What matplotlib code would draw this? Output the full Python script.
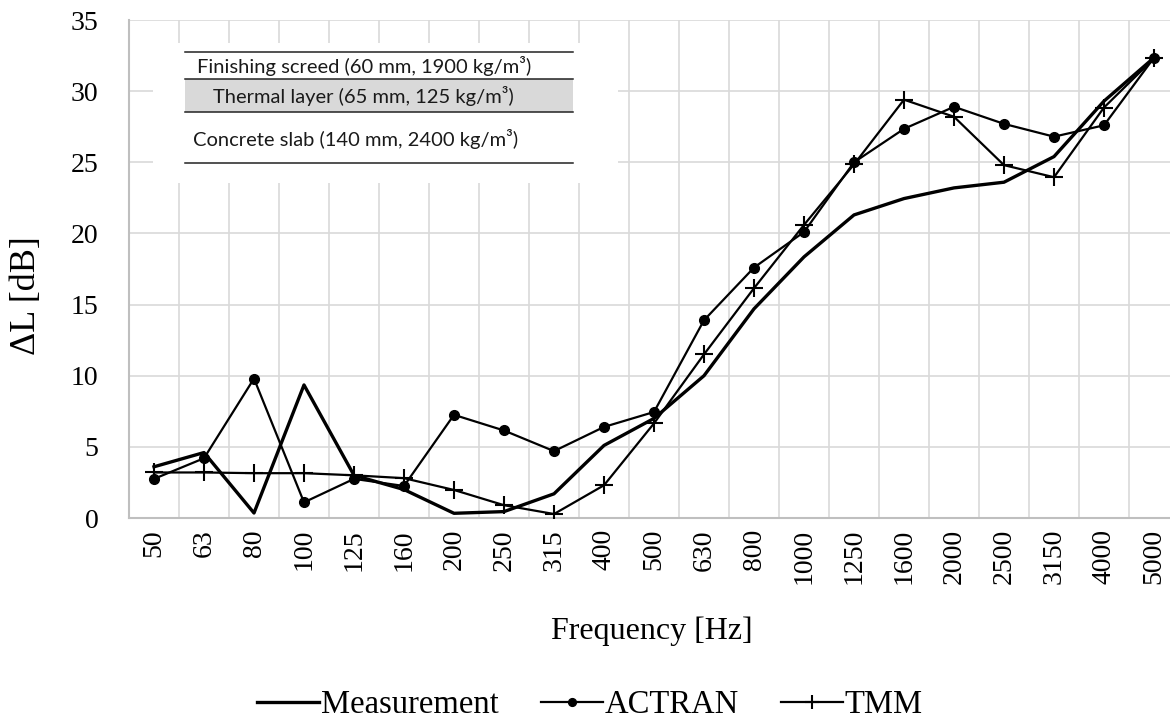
import matplotlib.pyplot as plt
from matplotlib.patches import Rectangle
import numpy as np

freqs = ['50', '63', '80', '100', '125', '160', '200', '250', '315', '400',
         '500', '630', '800', '1000', '1250', '1600', '2000', '2500', '3150',
         '4000', '5000']

measurement = [3.6, 4.6, 0.35, 9.35, 3.0, 2.0, 0.33, 0.45, 1.7, 5.1,
               7.0, 10.0, 14.7, 18.35, 21.3, 22.45, 23.2, 23.6, 25.4,
               29.3, 32.35]
actran = [2.75, 4.2, 9.8, 1.1, 2.75, 2.25, 7.25, 6.15, 4.7, 6.4,
          7.45, 13.9, 17.6, 20.1, 25.0, 27.35, 28.9, 27.7, 26.8,
          27.6, 32.35]
tmm = [3.2, 3.2, 3.15, 3.15, 3.0, 2.8, 1.97, 0.9, 0.28, 2.3,
       6.65, 11.5, 16.15, 20.6, 24.85, 29.4, 28.2, 24.8, 23.95,
       28.85, 32.3]

y_ticks = [0, 5, 10, 15, 20, 25, 30, 35]

layers = ['Finishing screed (60 mm, 1900 kg/m³)',
          'Thermal layer (65 mm, 125 kg/m³)',
          'Concrete slab (140 mm, 2400 kg/m³)']

W, H = 1170, 719
fig = plt.figure(figsize=(W / 100, H / 100), dpi=100)
# plot area runs a little past the right edge of the figure
ax = fig.add_axes([129 / W, 1 - 518 / H, 1050 / W, 498 / H])

serif = 'Liberation Serif'
x = np.arange(len(freqs))

ax.plot(x, measurement, color='black', lw=2.4, zorder=3, label='Measurement')
ax.plot(x, actran, color='black', lw=1.6, marker='o', ms=7, zorder=4,
        label='ACTRAN')
ax.plot(x, tmm, color='black', lw=1.6, marker='+', ms=13, mew=1.5, zorder=4,
        label='TMM')

ax.set_xlim(-0.5, len(freqs) - 0.5)
ax.set_ylim(0, 35)
ax.set_yticks(y_ticks)
ax.set_yticklabels([str(t) for t in y_ticks], fontname=serif, fontsize=20)
ax.set_xticks(x)
ax.set_xticklabels(freqs, rotation=90, fontname=serif, fontsize=20)
ax.set_xticks(np.arange(len(freqs) + 1) - 0.5, minor=True)
ax.tick_params(axis='both', which='both', length=0)
ax.tick_params(axis='x', pad=8)
ax.tick_params(axis='y', pad=22)

ax.set_axisbelow(True)
ax.grid(axis='y', which='major', color='#d9d9d9', lw=1.2)
ax.grid(axis='x', which='minor', color='#d9d9d9', lw=1.2)
ax.grid(axis='x', which='major', visible=False)
for s in ['top', 'right']:
    ax.spines[s].set_visible(False)
for s in ['left', 'bottom']:
    ax.spines[s].set_color('#bfbfbf')
    ax.spines[s].set_linewidth(1.5)


def axfrac(px, py):
    return (px - 129) / 1050, (518 - py) / 498


# floor build-up sketch in the upper left corner
x0, y0 = axfrac(153, 183)
x1, y1 = axfrac(618, 43)
ax.add_patch(Rectangle((x0, y0), x1 - x0, y1 - y0, transform=ax.transAxes,
                       facecolor='white', edgecolor='none', zorder=1.5))
lx0, _ = axfrac(185, 0)
lx1, _ = axfrac(573, 0)
_, gy0 = axfrac(0, 112)
_, gy1 = axfrac(0, 79)
ax.add_patch(Rectangle((lx0, gy0), lx1 - lx0, gy1 - gy0,
                       transform=ax.transAxes, facecolor='#d9d9d9',
                       edgecolor='none', zorder=1.6))
for py in [52, 79, 112, 163]:
    _, yy = axfrac(0, py)
    ax.plot([lx0, lx1], [yy, yy], transform=ax.transAxes, color='#222222',
            lw=1.1, zorder=1.7)
for txt, (px, py) in zip(layers, [(197, 66), (213, 96), (193, 139)]):
    tx, ty = axfrac(px, py)
    ax.text(tx, ty, txt, transform=ax.transAxes, ha='left', va='center',
            fontname='Lato', fontsize=14.5, color='#1a1a1a', zorder=1.8)

fig.text(27 / W, 1 - 296 / H, 'ΔL [dB]', rotation=90, ha='center',
         va='center', fontname=serif, fontsize=26)
fig.text(652 / W, 1 - 631 / H, 'Frequency [Hz]', ha='center', va='center',
         fontname=serif, fontsize=23)

fig.legend(loc='center', bbox_to_anchor=(590 / W, 1 - 705 / H), ncol=3,
           frameon=False, prop={'family': serif, 'size': 23.5},
           handlelength=1.9, handletextpad=0.05, columnspacing=1.3,
           markerscale=0.8)

fig.savefig('out.png', dpi=100)
